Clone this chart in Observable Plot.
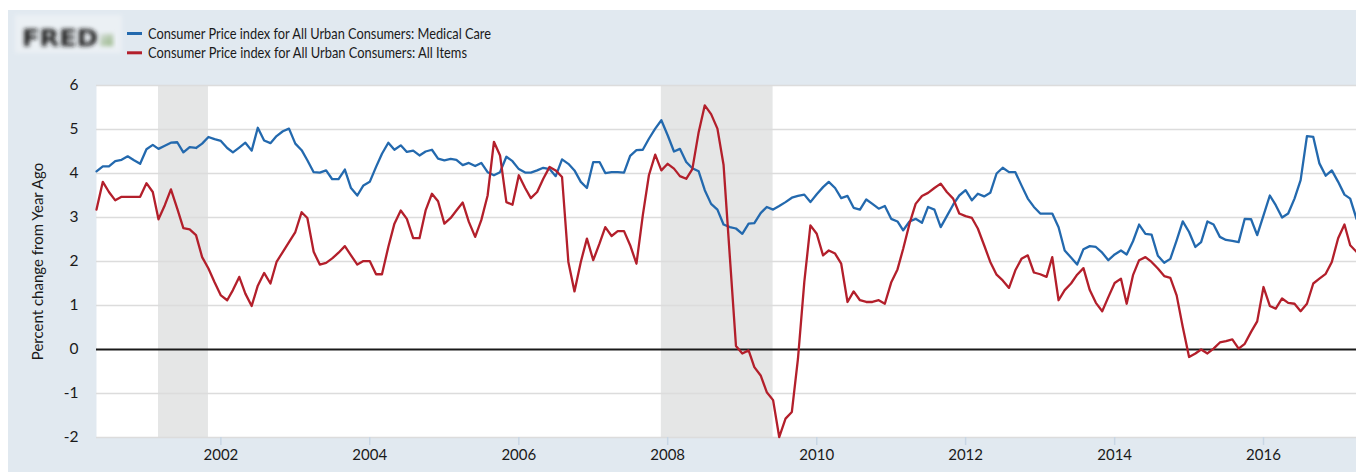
<!DOCTYPE html>
<html>
<head>
<meta charset="utf-8">
<script src="https://cdn.jsdelivr.net/npm/d3@7"></script>
<script src="https://cdn.jsdelivr.net/npm/@observablehq/plot@0.6"></script>
<style>
  html, body { margin: 0; padding: 0; background: #ffffff; }
  #wrap { position: absolute; left: 8px; top: 10px; width: 1348px; height: 462px; background: #e1e9f0; overflow: hidden; }
  #head { display: block; height: 65px; }
  #chart svg { display: block; }
</style>
</head>
<body>
<div id="wrap">
  <svg id="head" width="1348" height="65"></svg>
  <div id="chart"></div>
</div>
<script>
// ---- data ----
const startMonth = "2000-05-01";   // first observation
const endMonth = "2017-04-01";     // last observation

const seriesNames = [
  "Consumer Price index for All Urban Consumers: Medical Care",
  "Consumer Price index for All Urban Consumers: All Items"
];
const seriesColors = ["#2369ae", "#b31f2b"];

// Medical Care, % change from year ago, monthly May 2000 .. Apr 2017
const medicalCare = [
  4.05, 4.16, 4.16, 4.28, 4.31, 4.39, 4.30, 4.22,
  4.55, 4.65, 4.56, 4.63, 4.70, 4.71, 4.48, 4.60, 4.58, 4.68, 4.83, 4.78,
  4.74, 4.58, 4.48, 4.59, 4.70, 4.52, 5.04, 4.75, 4.69, 4.85, 4.96, 5.02,
  4.68, 4.53, 4.30, 4.03, 4.02, 4.07, 3.87, 3.87, 4.09, 3.67, 3.50, 3.73,
  3.81, 4.15, 4.45, 4.70, 4.54, 4.64, 4.49, 4.52, 4.41, 4.50, 4.54, 4.34,
  4.30, 4.33, 4.31, 4.19, 4.24, 4.17, 4.24, 4.03, 3.96, 4.03, 4.38, 4.28,
  4.10, 4.02, 4.02, 4.07, 4.13, 4.10, 3.94, 4.32, 4.22, 4.07, 3.81, 3.67,
  4.26, 4.26, 4.01, 4.03, 4.03, 4.02, 4.40, 4.53, 4.54, 4.79, 5.02, 5.21,
  4.87, 4.50, 4.56, 4.26, 4.12, 4.05, 3.62, 3.31, 3.18, 2.84, 2.78, 2.75,
  2.63, 2.86, 2.87, 3.10, 3.24, 3.18, 3.26, 3.35, 3.45, 3.49, 3.52, 3.35,
  3.53, 3.69, 3.81, 3.67, 3.44, 3.49, 3.22, 3.18, 3.41, 3.31, 3.20, 3.26,
  2.97, 2.91, 2.71, 2.91, 2.97, 2.88, 3.24, 3.18, 2.78, 3.03, 3.29, 3.50,
  3.62, 3.39, 3.54, 3.48, 3.56, 4.00, 4.13, 4.03, 4.03, 3.73, 3.43, 3.24,
  3.09, 3.09, 3.09, 2.78, 2.25, 2.09, 1.93, 2.28, 2.35, 2.33, 2.20, 2.03,
  2.16, 2.25, 2.16, 2.46, 2.84, 2.63, 2.61, 2.13, 1.97, 2.06, 2.48, 2.91,
  2.67, 2.33, 2.44, 2.91, 2.84, 2.56, 2.49, 2.47, 2.44, 2.97, 2.96, 2.60,
  3.05, 3.50, 3.28, 3.00, 3.09, 3.43, 3.85, 4.85, 4.83, 4.23, 3.95, 4.07,
  3.81, 3.52, 3.43, 2.97
];

// All Items, % change from year ago, monthly May 2000 .. Apr 2017
const allItems = [
  3.18, 3.81, 3.58, 3.39, 3.47, 3.47, 3.47, 3.47,
  3.78, 3.58, 2.96, 3.28, 3.64, 3.20, 2.76, 2.73, 2.60, 2.10, 1.84, 1.53,
  1.23, 1.12, 1.35, 1.65, 1.27, 0.99, 1.45, 1.74, 1.50, 1.99, 2.22, 2.44,
  2.67, 3.12, 2.99, 2.22, 1.93, 1.97, 2.07, 2.20, 2.35, 2.14, 1.93, 2.01,
  2.01, 1.71, 1.71, 2.33, 2.86, 3.16, 2.97, 2.53, 2.53, 3.16, 3.54, 3.37,
  2.86, 2.99, 3.16, 3.34, 2.90, 2.56, 2.94, 3.50, 4.72, 4.41, 3.35, 3.29,
  3.96, 3.67, 3.44, 3.58, 3.88, 4.15, 4.07, 3.92, 1.99, 1.32, 1.99, 2.52,
  2.03, 2.41, 2.78, 2.58, 2.69, 2.69, 2.37, 1.95, 3.05, 3.96, 4.43, 4.07,
  4.22, 4.11, 3.94, 3.88, 4.10, 4.94, 5.55, 5.35, 5.02, 4.20, 2.10, 0.08,
  -0.09, -0.02, -0.40, -0.59, -0.97, -1.15, -1.99, -1.57, -1.42, -0.21, 1.53, 2.82,
  2.63, 2.14, 2.25, 2.18, 1.95, 1.08, 1.32, 1.12, 1.08, 1.08, 1.12, 1.04,
  1.52, 1.82, 2.29, 2.86, 3.31, 3.49, 3.56, 3.67, 3.77, 3.58, 3.43, 3.09,
  3.03, 2.99, 2.75, 2.37, 1.99, 1.70, 1.57, 1.40, 1.80, 2.06, 2.14, 1.75,
  1.71, 1.65, 2.10, 1.12, 1.35, 1.50, 1.70, 1.85, 1.35, 1.06, 0.87, 1.19,
  1.51, 1.61, 1.04, 1.69, 2.03, 2.10, 1.99, 1.84, 1.67, 1.63, 1.23, 0.51,
  -0.17, -0.09, 0.00, -0.09, 0.02, 0.16, 0.19, 0.23, 0.02, 0.13, 0.40, 0.64,
  1.42, 0.99, 0.93, 1.16, 1.06, 1.04, 0.87, 1.04, 1.50, 1.61, 1.72, 1.99,
  2.53, 2.84, 2.37, 2.22
];

// NBER recessions (shaded)
const recessionStarts = ["2001-03-01", "2007-12-01"];
const recessionEnds   = ["2001-11-01", "2009-06-01"];

const yTicks = [-2, -1, 0, 1, 2, 3, 4, 5, 6];
const xTickYears = [2002, 2004, 2006, 2008, 2010, 2012, 2014, 2016];
const yLabel = "Percent change from Year Ago";
const logoText = "FRED";

// ---- build tables ----
const t0 = new Date(startMonth + "T00:00:00Z");
const t1 = new Date(endMonth + "T00:00:00Z");
const months = d3.utcMonth.range(t0, d3.utcMonth.offset(t1, 1));
const seriesValues = [medicalCare, allItems];
const rows = seriesValues.flatMap((vals, s) =>
  vals.map((v, i) => ({date: months[i], value: v, series: seriesNames[s]})));
const recessions = recessionStarts.map((s, i) => ({
  start: new Date(s + "T00:00:00Z"), end: new Date(recessionEnds[i] + "T00:00:00Z")}));

// ---- header: logo + legend ----
const head = d3.select("#head");
const defs = head.append("defs");
defs.append("filter").attr("id", "blurLogo").attr("x", "-20%").attr("y", "-40%").attr("width", "140%").attr("height", "180%")
  .append("feGaussianBlur").attr("stdDeviation", 2.2);
const grad = defs.append("linearGradient").attr("id", "logoIcon").attr("x1", 0).attr("y1", 0).attr("x2", 1).attr("y2", 1);
grad.append("stop").attr("offset", "0%").attr("stop-color", "#d3dbd7");
grad.append("stop").attr("offset", "100%").attr("stop-color", "#98b886");

const logo = head.append("g");
logo.append("rect").attr("x", 7).attr("y", 5).attr("width", 107).attr("height", 38)
  .attr("fill", "#ebf0f4").attr("filter", "url(#blurLogo)");
logo.append("text").text(logoText)
  .attr("x", 14).attr("y", 36)
  .attr("font-family", "DejaVu Sans, sans-serif").attr("font-weight", 900).attr("font-size", 23)
  .attr("textLength", 76).attr("lengthAdjust", "spacingAndGlyphs")
  .attr("fill", "#1a1a1a").attr("filter", "url(#blurLogo)");
logo.append("rect").attr("x", 92).attr("y", 24).attr("width", 13).attr("height", 12)
  .attr("fill", "url(#logoIcon)").attr("filter", "url(#blurLogo)");

const legendWidths = [343, 319];
seriesNames.forEach((name, i) => {
  const y = 23.5 + i * 19.3;
  head.append("line").attr("x1", 119).attr("x2", 134).attr("y1", y).attr("y2", y)
    .attr("stroke", seriesColors[i]).attr("stroke-width", 3);
  head.append("text").text(name)
    .attr("x", 140).attr("y", y + 5.6)
    .attr("font-family", "Lato, 'Open Sans', sans-serif").attr("font-size", 16)
    .attr("textLength", legendWidths[i]).attr("lengthAdjust", "spacingAndGlyphs")
    .attr("fill", "#1a1a1a");
});

// ---- chart ----
const chart = Plot.plot({
  width: 1348,
  height: 397,
  marginTop: 10,
  marginBottom: 35,
  marginLeft: 88,
  marginRight: 0,
  style: {background: "transparent", fontFamily: "Lato, 'Open Sans', sans-serif", color: "#1a1a1a", overflow: "visible"},
  x: {type: "utc", domain: [t0, t1]},
  y: {domain: [-2, 6]},
  color: {domain: seriesNames, range: seriesColors},
  marks: [
    Plot.frame({fill: "white", stroke: "none"}),
    Plot.rect(recessions, {x1: "start", x2: "end", fill: "#e5e6e6"}),
    Plot.gridY(yTicks.filter(v => v !== 0), {stroke: "#dcdcdc", strokeOpacity: 1, strokeWidth: 1.6}),
    Plot.ruleY([0], {stroke: "#1a1a1a", strokeWidth: 2}),
    Plot.line(rows, {x: "date", y: "value", z: "series", stroke: "series", strokeWidth: 2.3, strokeLinejoin: "round"}),
    Plot.axisY({ticks: yTicks, tickSize: 0, tickPadding: 18, fontSize: 15.5, label: null, tickFormat: d => String(d)}),
    Plot.axisX({ticks: xTickYears.map(y => new Date(Date.UTC(y, 0, 1))), tickFormat: d3.utcFormat("%Y"),
      tickSize: 8, tickPadding: 4, stroke: "#c8d6e4", strokeWidth: 1.5, fontSize: 15, label: null}),
    Plot.text([yLabel], {frameAnchor: "left", dx: -58, rotate: -90, textAnchor: "middle", fontSize: 15, fill: "#1a1a1a"})
  ]
});
document.getElementById("chart").appendChild(chart);
</script>
</body>
</html>
